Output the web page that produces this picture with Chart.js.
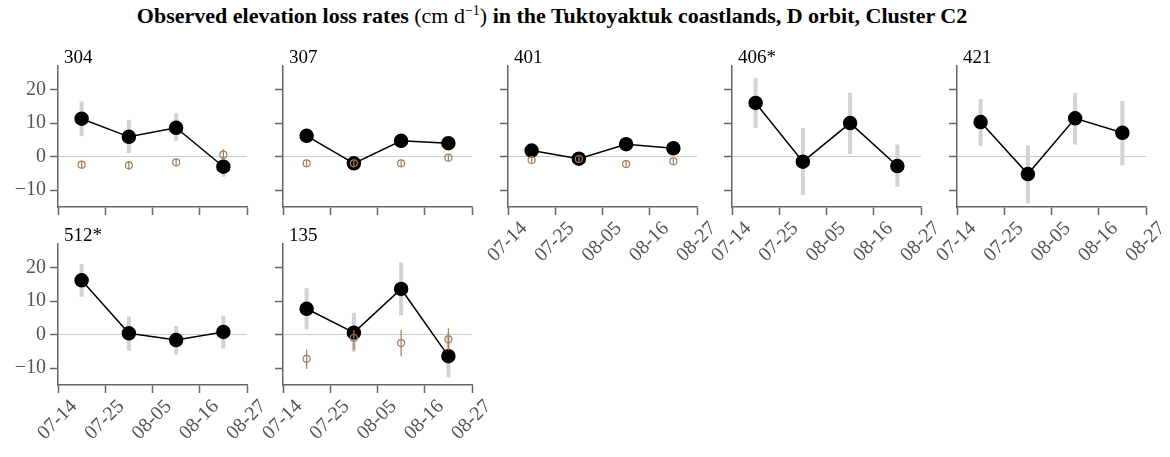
<!DOCTYPE html>
<html>
<head>
<meta charset="utf-8">
<script src="https://cdn.jsdelivr.net/npm/chart.js@4"></script>
<style>
  body { margin: 0; background: #fff; width: 1170px; height: 457px; position: relative; overflow: hidden; font-family: "Liberation Serif", serif; }
  #title { position: absolute; left: 0; top: 3px; width: 1104px; text-align: center; font-size: 22px; color: #000; white-space: nowrap; }
  #title sup { font-size: 14px; }
  canvas { position: absolute; }
</style>
</head>
<body>
<div id="title"><b>Observed elevation loss rates</b> (cm d<sup>&minus;1</sup>) <b>in the Tuktoyaktuk coastlands, D orbit, Cluster C2</b></div>
<div id="figure"></div>
<script>
// x axis is days since 07-14
const tickDays = [0, 11, 22, 33, 44];
const dayLabels = ["07-14", "07-25", "08-05", "08-16", "08-27"];
const yTicks = [-10, 0, 10, 20];
const obsDays = [5.5, 16.5, 27.5, 38.5];

const clusterNames = ["304", "307", "401", "406*", "421", "512*", "135"];

// observed rates (black) with grey error bars
const observed = [
  [11.3, 5.9, 8.6, -3.0],
  [6.2, -2.0, 4.7, 4.0],
  [1.8, -0.6, 3.7, 2.5],
  [16.0, -1.5, 10.0, -2.8],
  [10.3, -5.2, 11.4, 7.1],
  [16.2, 0.4, -1.6, 0.8],
  [7.7, 0.6, 13.6, -6.4],
];
const observedLow = [
  [6.1, 1.1, 4.7, -6.0],
  [4.4, -3.8, 3.0, 2.4],
  [1.0, -1.4, 2.9, 1.7],
  [8.5, -11.4, 0.8, -9.0],
  [3.2, -13.9, 3.6, -2.6],
  [11.3, -4.8, -6.0, -4.1],
  [1.6, -5.1, 5.8, -12.7],
];
const observedHigh = [
  [16.4, 11.0, 12.9, 0.2],
  [7.9, 0.2, 6.6, 5.6],
  [2.6, 0.2, 4.5, 3.3],
  [23.5, 8.5, 19.0, 3.6],
  [17.2, 3.4, 19.0, 16.6],
  [21.0, 5.4, 2.6, 5.6],
  [13.8, 6.5, 21.5, 0.5],
];

// modelled rates (brown), only some clusters
const modelled = [
  [-2.4, -2.6, -1.7, 0.6],
  [-2.0, -2.0, -2.0, -0.3],
  [-1.0, -0.7, -2.2, -1.4],
  null,
  null,
  null,
  [-7.2, -1.0, -2.5, -1.4],
];
const modelledLow = [
  [-3.6, -3.9, -2.8, -0.8],
  [-3.0, -3.0, -3.0, -1.4],
  [-1.8, -1.5, -3.0, -2.2],
  null,
  null,
  null,
  [-10.2, -4.6, -6.4, -4.6],
];
const modelledHigh = [
  [-1.3, -1.3, -0.6, 2.2],
  [-1.0, -1.0, -1.0, 0.7],
  [-0.2, 0.1, -1.4, -0.6],
  null,
  null,
  null,
  [-4.4, 1.4, 1.4, 1.9],
];

const FONT = "Liberation Serif";
const GREY_BAR = "#d2d2d2";
const BROWN = "#a27c5c";

function points(xs, ys) {
  return xs.map((x, i) => ({ x: x, y: ys[i] }));
}

// vertical segments separated by gaps
function errorSegments(xs, lo, hi) {
  const out = [];
  for (let i = 0; i < xs.length; i++) {
    out.push({ x: xs[i], y: lo[i] });
    out.push({ x: xs[i], y: hi[i] });
    out.push({ x: xs[i], y: null });
  }
  return out;
}

const panelLabel = {
  id: "panelLabel",
  afterDraw(chart, args, opts) {
    const ctx = chart.ctx;
    const area = chart.chartArea;
    ctx.save();
    ctx.font = "19px " + FONT;
    ctx.fillStyle = "#000";
    ctx.textBaseline = "alphabetic";
    ctx.fillText(opts.text, area.left + 6, area.top - 3);
    ctx.restore();
  },
};

function makePanel(idx) {
  const col = idx < 5 ? idx : idx - 5;
  const row = idx < 5 ? 0 : 1;
  const showX = idx >= 2;
  const showY = col === 0;

  const plotLeft = Math.round(58 + 224.75 * col);
  const plotTop = row === 0 ? 66 : 244;

  const canvas = document.createElement("canvas");
  canvas.width = 55 + 189 + 36;
  canvas.height = 227;
  canvas.style.left = (plotLeft - 55) + "px";
  canvas.style.top = (plotTop - 24) + "px";
  document.getElementById("figure").appendChild(canvas);

  const datasets = [];
  if (modelled[idx] != null) {
    datasets.push({
      label: "modelled",
      data: points(obsDays, modelled[idx]),
      showLine: false,
      pointRadius: 3.5,
      pointBorderWidth: 1.2,
      pointBorderColor: BROWN,
      pointBackgroundColor: "rgba(255,255,255,0)",
      order: 0,
    });
    datasets.push({
      label: "modelled error",
      data: errorSegments(obsDays, modelledLow[idx], modelledHigh[idx]),
      borderColor: BROWN,
      borderWidth: 1.2,
      pointRadius: 0,
      spanGaps: false,
      order: 1,
    });
  }
  datasets.push({
    label: "observed",
    data: points(obsDays, observed[idx]),
    borderColor: "#000",
    borderWidth: 1.5,
    pointRadius: 6.5,
    pointBackgroundColor: "#000",
    pointBorderColor: "#000",
    order: 2,
  });
  datasets.push({
    label: "observed error",
    data: errorSegments(obsDays, observedLow[idx], observedHigh[idx]),
    borderColor: GREY_BAR,
    borderWidth: 4,
    borderCapStyle: "butt",
    pointRadius: 0,
    spanGaps: false,
    order: 3,
  });

  return new Chart(canvas, {
    type: "line",
    data: { datasets: datasets },
    plugins: [panelLabel],
    options: {
      responsive: false,
      animation: false,
      devicePixelRatio: 1,
      layout: { padding: { top: 24, right: 36, left: 0, bottom: 0 } },
      plugins: {
        legend: { display: false },
        tooltip: { enabled: false },
        panelLabel: { text: clusterNames[idx] },
      },
      scales: {
        x: {
          type: "linear",
          min: 0,
          max: 44,
          afterBuildTicks: (s) => { s.ticks = tickDays.map((v) => ({ value: v })); },
          afterFit: (s) => { s.height = 62; },
          border: { color: "#666", width: 1.5 },
          grid: { drawOnChartArea: false, tickColor: "#666", tickLength: 8, tickWidth: 1.5 },
          ticks: {
            display: showX,
            autoSkip: false,
            minRotation: 45,
            maxRotation: 45,
            padding: 2,
            labelOffset: 16,
            color: "#555",
            font: { family: FONT, size: 20 },
            callback: (v) => dayLabels[tickDays.indexOf(v)],
          },
        },
        y: {
          min: -15,
          max: 27,
          afterBuildTicks: (s) => { s.ticks = yTicks.map((v) => ({ value: v })); },
          afterFit: (s) => { s.width = 55; },
          border: { color: "#666", width: 1.5 },
          grid: {
            color: (c) => (c.tick && c.tick.value === 0 ? "#cccccc" : "rgba(0,0,0,0)"),
            lineWidth: 1,
            tickColor: "#666",
            tickLength: 8,
            tickWidth: 1.5,
          },
          ticks: {
            display: showY,
            padding: 4,
            color: "#555",
            font: { family: FONT, size: 20 },
            callback: (v) => (v < 0 ? "\u2212" + Math.abs(v) : String(v)),
          },
        },
      },
    },
  });
}

for (let i = 0; i < clusterNames.length; i++) {
  makePanel(i);
}
</script>
</body>
</html>
